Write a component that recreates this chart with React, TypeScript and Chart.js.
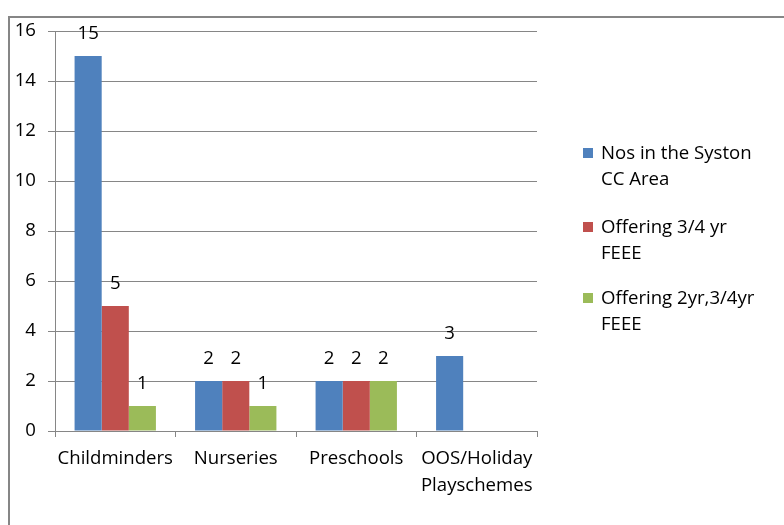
import React, { useEffect, useRef } from "react";
import { Chart, registerables } from "chart.js";

Chart.register(...registerables);

const categories: (string | string[])[] = ["Childminders", "Nurseries", "Preschools", ["OOS/Holiday", "Playschemes"]];
const seriesNames: string[][] = [["Nos in the Syston", "CC Area"], ["Offering 3/4 yr", "FEEE"], ["Offering 2yr,3/4yr", "FEEE"]];
const nosInArea: (number | null)[] = [15, 2, 2, 3];
const offering34: (number | null)[] = [5, 2, 2, null];
const offering2yr34: (number | null)[] = [1, 1, 2, null];
const colors = ["#4F81BD", "#C0504D", "#9BBB59"];

const FONT = "'Open Sans', 'Noto Sans', sans-serif";
const FS = 18.6;

const dataLabels = {
  id: "dataLabels",
  afterDatasetsDraw(chart: any) {
    const ctx = chart.ctx;
    ctx.save();
    ctx.font = `${FS}px ${FONT}`;
    ctx.fillStyle = "#000";
    ctx.textAlign = "center";
    ctx.textBaseline = "middle";
    chart.data.datasets.forEach((ds: any, i: number) => {
      const meta = chart.getDatasetMeta(i);
      meta.data.forEach((bar: any, j: number) => {
        const v = ds.data[j];
        if (v === null || v === undefined) return;
        ctx.fillText(String(v), bar.x, bar.y - 22);
      });
    });
    ctx.restore();
  },
};

export default function App() {
  const ref = useRef<HTMLCanvasElement>(null);
  useEffect(() => {
    document.body.style.margin = "0";
    const chart = new Chart(ref.current!, {
      type: "bar",
      data: {
        labels: categories,
        datasets: [nosInArea, offering34, offering2yr34].map((d, i) => ({
          label: seriesNames[i].join(" "),
          data: d,
          backgroundColor: colors[i],
          borderWidth: 0,
          categoryPercentage: 0.675,
          barPercentage: 1,
        })),
      },
      options: {
        animation: false,
        responsive: false,
        events: [],
        layout: { padding: { top: 31, right: 247, bottom: 0, left: 0 } },
        plugins: { legend: { display: false }, tooltip: { enabled: false } },
        scales: {
          x: {
            grid: { display: true, drawOnChartArea: false, drawTicks: true, tickLength: 6, color: "#868686", offset: true },
            border: { display: true, color: "#868686", width: 1 },
            ticks: { color: "#000", font: { family: FONT, size: FS, lineHeight: 27 / FS }, padding: 8, maxRotation: 0, autoSkip: false },
            afterFit: (s: any) => { s.height = 94; },
          },
          y: {
            min: 0,
            max: 16,
            ticks: { stepSize: 2, color: "#000", font: { family: FONT, size: FS }, padding: 12 },
            grid: { color: "#868686", tickLength: 7, drawTicks: true },
            border: { display: true, color: "#868686", width: 1 },
            afterFit: (s: any) => { s.width = 55; },
          },
        },
      },
      plugins: [dataLabels],
    });
    return () => chart.destroy();
  }, []);

  const legendTop = [139, 213, 284];
  return (
    <div style={{ position: "fixed", left: 0, top: 0, width: 784, height: 525, background: "#fff", overflow: "hidden" }}>
      <div style={{ position: "absolute", left: 8, top: 16, width: 800, height: 540, border: "2px solid #868686", boxSizing: "border-box" }} />
      <canvas ref={ref} width={784} height={525} style={{ position: "absolute", left: 0, top: 0, width: 784, height: 525 }} />
      {seriesNames.map((lines, i) => (
        <div key={i} style={{ position: "absolute", left: 583, top: legendTop[i], fontFamily: FONT, fontSize: FS, lineHeight: "26px", color: "#000" }}>
          <div style={{ position: "absolute", left: 0, top: 9, width: 10, height: 10, background: colors[i] }} />
          <div style={{ marginLeft: 18, whiteSpace: "nowrap" }}>
            {lines.map((l, k) => (<div key={k}>{l}</div>))}
          </div>
        </div>
      ))}
    </div>
  );
}
